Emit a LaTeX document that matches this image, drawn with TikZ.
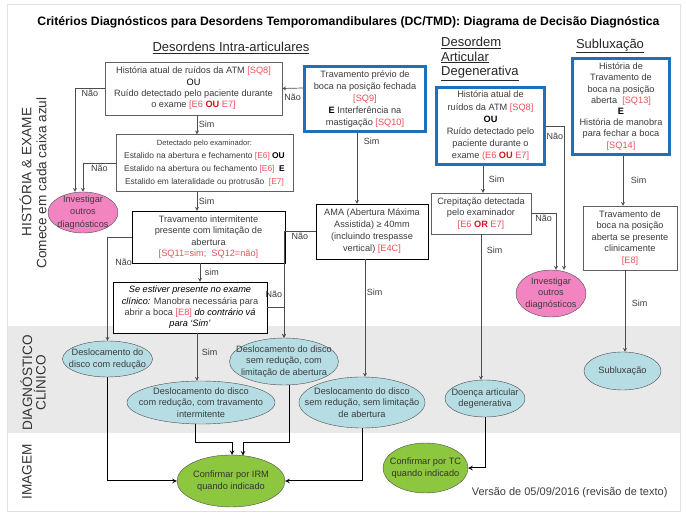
\documentclass[tikz,border=0pt]{standalone}
\usepackage{fontspec}
\setmainfont{Liberation Sans}
\usepackage{xcolor}
\usetikzlibrary{shapes.geometric}

\definecolor{txtgray}{RGB}{60,60,60}
\definecolor{refred}{RGB}{232,82,88}
\definecolor{boldred}{RGB}{208,20,28}
\definecolor{boxblue}{RGB}{30,112,186}
\definecolor{diagteal}{RGB}{182,221,228}
\definecolor{investpink}{RGB}{242,132,194}
\definecolor{confgreen}{RGB}{141,198,63}
\definecolor{bandgray}{RGB}{233,233,233}

\newcommand{\rf}[1]{\textcolor{refred}{#1}}
\newcommand{\rb}[1]{\textcolor{boldred}{\textbf{#1}}}

\begin{document}
\begin{tikzpicture}[x=1pt, y=-1pt,
    crit/.style={draw=gray!75!black, fill=white, align=center, text=txtgray, inner sep=1pt, font=\fontsize{9.2}{11.3}\selectfont},
    critdark/.style={crit, draw=black},
    entry/.style={crit, draw=boxblue, line width=2.4pt},
    diag/.style={ellipse, draw=gray!60!black, fill=diagteal, align=center, text=txtgray, inner xsep=-60pt, inner ysep=-30pt, font=\fontsize{9.2}{11.3}\selectfont},
    invest/.style={diag, fill=investpink},
    confirm/.style={diag, fill=confgreen, draw=black!70, text=black!80},
    head/.style={font=\fontsize{13}{14.5}\selectfont, text=black!85},
    side/.style={font=\fontsize{13.6}{13.5}\selectfont, text=black!80, rotate=90, align=center},
    lbl/.style={font=\fontsize{9}{11}\selectfont, text=txtgray, inner sep=1.5pt},
    arr/.style={->, >=stealth, draw=black!70, line width=0.7pt},
    arrdark/.style={->, >=stealth, draw=black, line width=1pt}]

    % Background
    \useasboundingbox (0,0) rectangle (686,518);
    \fill[bandgray] (7,326) rectangle (680,433);
    \draw[gray!25, line width=1pt] (7,5) rectangle (680,512);

    % Titles
    \node[font=\fontsize{12.2}{14}\selectfont\bfseries] (title) at (348.5,22) {Critérios Diagnósticos para Desordens Temporomandibulares (DC/TMD): Diagrama de Decisão Diagnóstica};
    \node[head] (intrahead) at (231,48) {\underline{Desordens Intra-articulares}};
    \node[head, align=left, anchor=north west, inner sep=0pt] (dadhead) at (441,37) {\underline{Desordem}\\\underline{Articular}\\\underline{Degenerativa}};
    \node[head] (subhead) at (610,46) {\underline{Subluxação}};
    \node[side] (sidehist) at (25.5,172) {HISTÓRIA \& EXAME};
    \node[side] (sidestart) at (41.5,183) {Comece em cada caixa azul};
    \node[side] (sidediag) at (33,383) {DIAGNÓSTICO\\CLÍNICO};
    \node[side] (sideimg) at (27,472) {IMAGEM};
    \node[font=\fontsize{11}{13}\selectfont, text=txtgray, anchor=east] (version) at (671,493) {Versão de 05/09/2016 (revisão de texto)};

    % Nodes
    \node[crit, minimum width=177pt, minimum height=53pt] (hist) at (193.5,88.5) {História atual de ruídos da ATM \rf{[SQ8]}\\\textcolor{black}{OU}\\Ruído detectado pelo paciente durante\\o exame \rf{[E6 \rb{OU} E7]}};
    \node[entry, minimum width=121pt, minimum height=65pt, font=\fontsize{9.2}{11.8}\selectfont] (lock) at (365,99) {Travamento prévio de\\boca na posição fechada\\\rf{[SQ9]}\\\textcolor{black}{\textbf{E}} Interferência na\\mastigação \rf{[SQ10]}};
    \node[crit, minimum width=177pt, minimum height=57pt, font=\fontsize{8.4}{12.8}\selectfont] (click) at (204.5,163) {{\fontsize{7.6}{12.8}\selectfont Detectado pelo examinador:}\\Estalido na abertura e fechamento \rf{[E6]} \textcolor{black}{\textbf{OU}}\\Estalido na abertura ou fechamento \rf{[E6]}~~\textcolor{black}{\textbf{E}}\\Estalido em lateralidade ou protrusão~~\rf{[E7]}};
    \node[invest, minimum width=70pt, minimum height=41pt, font=\fontsize{9.2}{12.5}\selectfont] (investA) at (83,212.5) {Investigar\\outros\\diagnósticos};
    \node[critdark, minimum width=153pt, minimum height=52pt] (interm) at (208.5,237) {Travamento intermitente\\presente com limitação de\\abertura\\\rf{[SQ11=sim;~~SQ12=não]}};
    \node[critdark, minimum width=154pt, minimum height=51pt] (manob) at (190,307.5) {\textcolor{black}{\textit{Se estiver presente no exame}}\\\textcolor{black}{\textit{clínico:}} Manobra necessária para\\abrir a boca \rf{[E8]} \textcolor{black}{\textit{do contrário vá}}\\\textcolor{black}{\textit{para `Sim'}}};
    \node[critdark, minimum width=112pt, minimum height=55pt, font=\fontsize{9.2}{12}\selectfont] (ama) at (372,231.5) {AMA (Abertura Máxima\\Assistida) ≥ 40mm\\(incluindo trespasse\\vertical) \rf{[E4C]}};
    \node[entry, minimum width=108pt, minimum height=77pt, font=\fontsize{9.2}{12.2}\selectfont] (adhist) at (490.5,126) {História atual de\\ruídos da ATM \rf{[SQ8]}\\\textcolor{black}{\textbf{OU}}\\Ruído detectado pelo\\paciente durante o\\exame \rf{(E6 \rb{OU} E7]}};
    \node[crit, minimum width=100pt, minimum height=41pt, font=\fontsize{9.2}{11.5}\selectfont] (crep) at (481,213.5) {Crepitação detectada\\pelo examinador\\\rf{[E6 \rb{OR} E7]}};
    \node[invest, minimum width=70pt, minimum height=47pt, font=\fontsize{9.2}{11.5}\selectfont] (investB) at (551,293.5) {Investigar\\outros\\diagnósticos};
    \node[entry, minimum width=97pt, minimum height=96pt, font=\fontsize{9.2}{11.2}\selectfont] (subhist) at (621,106.5) {História de\\Travamento de\\boca na posição\\aberta~~\rf{[SQ13]}\\\textcolor{black}{\textbf{E}}\\História de manobra\\para fechar a boca\\\rf{[SQ14]}};
    \node[crit, minimum width=94pt, minimum height=64pt, font=\fontsize{9.2}{11.5}\selectfont] (sublock) at (630,238) {Travamento de\\boca na posição\\aberta se presente\\clinicamente\\\rf{[E8]}};

    \node[diag, minimum width=90pt, minimum height=36pt] (discred) at (107.5,359) {Deslocamento do\\disco com redução};
    \node[diag, minimum width=148pt, minimum height=43pt] (discredlock) at (201,402.5) {Deslocamento do disco\\com redução, com travamento\\intermitente};
    \node[diag, minimum width=109pt, minimum height=47pt] (discnoredlim) at (284,361.5) {Deslocamento do disco\\sem redução, com\\limitação de abertura};
    \node[diag, minimum width=126pt, minimum height=51pt] (discnorednolim) at (362,402.5) {Deslocamento do disco\\sem redução, sem limitação\\de abertura};
    \node[diag, minimum width=80pt, minimum height=37pt] (dad) at (485,398.5) {Doença articular\\degenerativa};
    \node[diag, minimum width=77pt, minimum height=38pt] (sublux) at (622.5,371) {Subluxação};
    \node[confirm, minimum width=108pt, minimum height=52pt] (mri) at (231,481) {Confirmar por IRM\\quando indicado};
    \node[confirm, minimum width=85pt, minimum height=50pt] (ct) at (425.5,468) {Confirmar por TC\\quando indicado};
    \coordinate (mriinA) at (232,455);
    \coordinate (mriinB) at (243,455.6);

    % Arrows
    \draw[arr] ([xshift=3.5pt]hist.south) -- ([xshift=3.5pt]hist.south |- click.north) node[lbl, right, midway] {Sim};
    \draw[arr] ([yshift=11pt]lock.west) -- (hist.east) node[lbl, below=4pt, midway] {Não};
    \draw[arr] (hist.west) -| ([xshift=-8pt]investA.north) node[lbl, below, pos=0.25] {Não};
    \draw[arr] (click.west) -| (investA.north) node[lbl, below, pos=0.25] {Não};
    \draw[arr] ([xshift=-7.5pt]click.south) -- ([xshift=-7.5pt]click.south |- interm.north) node[lbl, right, midway] {Sim};
    \draw[arr] (interm.west) -| (discred.north) node[lbl, right=6pt, pos=0.62] {Não};
    \draw[arr] ([xshift=-8.5pt]interm.south) -- ([xshift=-8.5pt]interm.south |- manob.north) node[lbl, right=3pt, midway] {sim};
    \draw[arr] ([xshift=7pt]manob.south) -- ([xshift=7pt]manob.south |- discredlock.north) node[lbl, right=3pt, pos=0.4] {Sim};
    \draw[arr] (manob.east) -| (discnoredlim.north) node[lbl, above left, pos=0.5, yshift=8pt] {Não};
    \draw[arr] (ama.west) -| (discnoredlim.north) node[lbl, below, pos=0.25] {Não};
    \draw[arr] ([xshift=-8pt]lock.south) -- ([xshift=-8pt]lock.south |- ama.north) node[lbl, right=5pt, pos=0.12] {Sim};
    \draw[arr] ([xshift=-7pt]ama.south) -- ([xshift=-7pt]ama.south |- discnorednolim.north) node[lbl, right, pos=0.28] {Sim};
    \draw[arr] ([xshift=-7.5pt]adhist.south) -- ([xshift=-7.5pt]adhist.south |- crep.north) node[lbl, right=4pt, midway] {Sim};
    \draw[arr] (adhist.east) -| ([xshift=13pt]investB.north) node[lbl, below=5pt, pos=0.25] {Não};
    \draw[arr] (crep.east) -| ([xshift=5pt]investB.north) node[lbl, below, pos=0.25] {Não};
    \draw[arr] (crep.south) -- (crep.south |- dad.north) node[lbl, right=4pt, pos=0.11] {Sim};
    \draw[arr] ([xshift=2pt]subhist.south) -- ([xshift=2pt]subhist.south |- sublock.north) node[lbl, right=6pt, midway] {Sim};
    \draw[arr] ([xshift=-5pt]sublock.south) -- ([xshift=-5pt]sublock.south |- sublux.north) node[lbl, right=5pt, pos=0.41] {Sim};

    \draw[arrdark] (discred.south) |- (mri.west);
    \draw[arrdark] ([xshift=-6pt]discredlock.south) -- ++(0,18) -| (mriinA);
    \draw[arrdark] ([xshift=5pt]discnoredlim.south) -- ++(0,57) -| (mriinB);
    \draw[arrdark] (discnorednolim.south) |- (mri.east);
    \draw[arrdark] (dad.south) |- (ct.east);
\end{tikzpicture}
\end{document}
